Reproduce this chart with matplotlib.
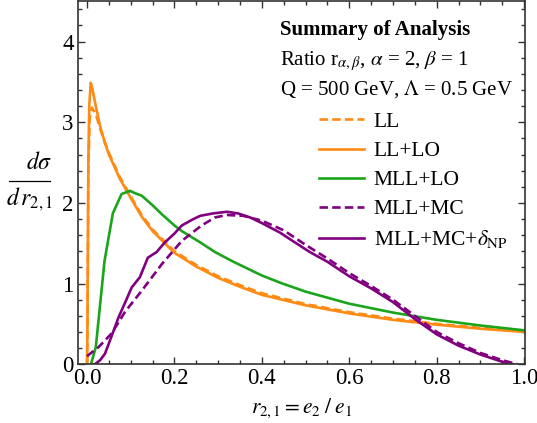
import matplotlib
matplotlib.use("Agg")
import matplotlib.pyplot as plt
from matplotlib.ticker import MultipleLocator, FormatStrFormatter
from matplotlib.lines import Line2D

plt.rcParams['font.family'] = ['Liberation Serif', 'DejaVu Serif']
plt.rcParams['mathtext.fontset'] = 'stix'

# ---- data ----
ll_lo_x = [0.0, 0.001, 0.003, 0.005, 0.0085, 0.012, 0.02, 0.03, 0.04, 0.05, 0.075, 0.1, 0.125, 0.15,
           0.2, 0.25, 0.3, 0.35, 0.4, 0.5, 0.6, 0.7, 0.8, 0.9, 1.0]
ll_lo_y = [0.0, 0.5, 2.5, 3.2, 3.49, 3.42, 3.2, 2.95, 2.76, 2.6, 2.3, 2.06, 1.83, 1.65,
           1.38, 1.21, 1.07, 0.96, 0.86, 0.73, 0.63, 0.55, 0.49, 0.44, 0.40]

ll_x = [0.0, 0.001, 0.003, 0.006, 0.011, 0.02, 0.03, 0.04, 0.05, 0.075, 0.1, 0.125, 0.15,
        0.2, 0.25, 0.3, 0.35, 0.4, 0.5, 0.6, 0.7, 0.8, 0.9, 1.0]
ll_y = [0.0, 0.5, 2.4, 3.05, 3.18, 3.1, 2.92, 2.76, 2.62, 2.32, 2.08, 1.85, 1.67,
        1.40, 1.23, 1.09, 0.98, 0.88, 0.745, 0.645, 0.565, 0.50, 0.45, 0.41]

mll_lo_x = [0.009, 0.02, 0.04, 0.059, 0.079, 0.098, 0.11, 0.125, 0.15, 0.171, 0.2, 0.217, 0.259,
            0.293, 0.335, 0.4, 0.442, 0.5, 0.6, 0.7, 0.8, 0.9, 1.0]
mll_lo_y = [0.0, 0.21, 1.28, 1.87, 2.11, 2.15, 2.12, 2.09, 1.97, 1.86, 1.72, 1.65, 1.51,
            1.39, 1.27, 1.10, 1.01, 0.90, 0.75, 0.64, 0.55, 0.48, 0.42]

mll_mc_x = [0.0, 0.026, 0.056, 0.087, 0.125, 0.171, 0.217, 0.262, 0.293, 0.32, 0.357, 0.4, 0.45,
            0.5, 0.55, 0.6, 0.65, 0.7, 0.75, 0.8, 0.85, 0.9, 0.95, 0.985]
mll_mc_y = [0.10, 0.21, 0.38, 0.65, 0.91, 1.24, 1.53, 1.72, 1.82, 1.85, 1.84, 1.78, 1.66,
            1.48, 1.31, 1.13, 0.97, 0.80, 0.60, 0.40, 0.26, 0.14, 0.05, 0.0]

mll_mc_np_x = [0.018, 0.03, 0.041, 0.055, 0.072, 0.09, 0.102, 0.121, 0.139, 0.159, 0.178, 0.2,
               0.217, 0.24, 0.259, 0.289, 0.32, 0.345, 0.373, 0.4, 0.442, 0.47, 0.51, 0.55, 0.6,
               0.65, 0.7, 0.75, 0.8, 0.85, 0.9, 0.95, 0.975]
mll_mc_np_y = [0.0, 0.05, 0.13, 0.33, 0.58, 0.8, 0.95, 1.08, 1.32, 1.39, 1.51, 1.62,
               1.72, 1.79, 1.84, 1.87, 1.89, 1.87, 1.82, 1.75, 1.63, 1.53, 1.39, 1.27, 1.09,
               0.94, 0.77, 0.56, 0.37, 0.23, 0.12, 0.03, 0.0]

labels = ['LL', 'LL+LO', 'MLL+LO', 'MLL+MC', r'MLL+MC+$\delta_{\rm NP}$']

orange = '#ff8a14'
green = '#1aa51a'
purple = '#800080'
lw = 1.9
dash = (3.2, 1.6)

W, H = 537, 423
fig = plt.figure(figsize=(W / 100, H / 100), dpi=100)
ax = fig.add_axes([0.145, 0.139, 0.833, 0.858])

ax.plot(ll_x, ll_y, color=orange, lw=lw, ls=(0, dash), label=labels[0])
ax.plot(ll_lo_x, ll_lo_y, color=orange, lw=lw, label=labels[1])
ax.plot(mll_lo_x, mll_lo_y, color=green, lw=lw, label=labels[2])
ax.plot(mll_mc_x, mll_mc_y, color=purple, lw=lw, ls=(0, dash), label=labels[3])
ax.plot(mll_mc_np_x, mll_mc_np_y, color=purple, lw=lw, label=labels[4])

ax.set_xlim(-0.021, 1.0025)
ax.set_ylim(0, 4.5)
ax.xaxis.set_major_locator(MultipleLocator(0.2))
ax.xaxis.set_minor_locator(MultipleLocator(0.05))
ax.yaxis.set_major_locator(MultipleLocator(1))
ax.yaxis.set_minor_locator(MultipleLocator(0.2))
ax.xaxis.set_major_formatter(FormatStrFormatter('%.1f'))
ax.tick_params(which='both', direction='in', top=True, right=True, labelsize=16.5,
               width=1.0, color='#333333')
ax.tick_params(which='major', length=5, pad=3)
ax.tick_params(which='minor', length=3)
for s in ax.spines.values():
    s.set_linewidth(1.2)
    s.set_color('#333333')

ax.set_xlabel(r'$r_{2,1} = e_2\;/\;e_1$', fontsize=15.5, labelpad=5)

# y label as a stacked fraction
fig.text(39 / W, 1 - 163 / H, r'$d\sigma$', fontsize=17, ha='center', va='center')
fig.text(29.5 / W, 1 - 199 / H, r'$d\,r_{2,1}$', fontsize=17, ha='center', va='center')
fig.add_artist(Line2D([9 / W, 50 / W], [1 - 181 / H, 1 - 181 / H], transform=fig.transFigure,
                      color='black', lw=0.9))

ax.text(0.452, 0.92, 'Summary of Analysis', transform=ax.transAxes, fontsize=15,
        fontweight='bold', va='center', ha='left')
ax.text(0.452, 0.835, r'Ratio r$_{\alpha,\beta}$, $\alpha$ = 2, $\beta$ = 1', transform=ax.transAxes,
        fontsize=15, va='center', ha='left')
ax.text(0.452, 0.758, r'Q = 500 GeV, $\Lambda$ = 0.5 GeV', transform=ax.transAxes,
        fontsize=15, va='center', ha='left')

ax.legend(loc='upper left', bbox_to_anchor=(0.539, 0.695), frameon=False, fontsize=15.5,
          handlelength=2.1, handletextpad=0.45, labelspacing=0.42, borderpad=0, borderaxespad=0)

fig.savefig('out.png', dpi=100)
